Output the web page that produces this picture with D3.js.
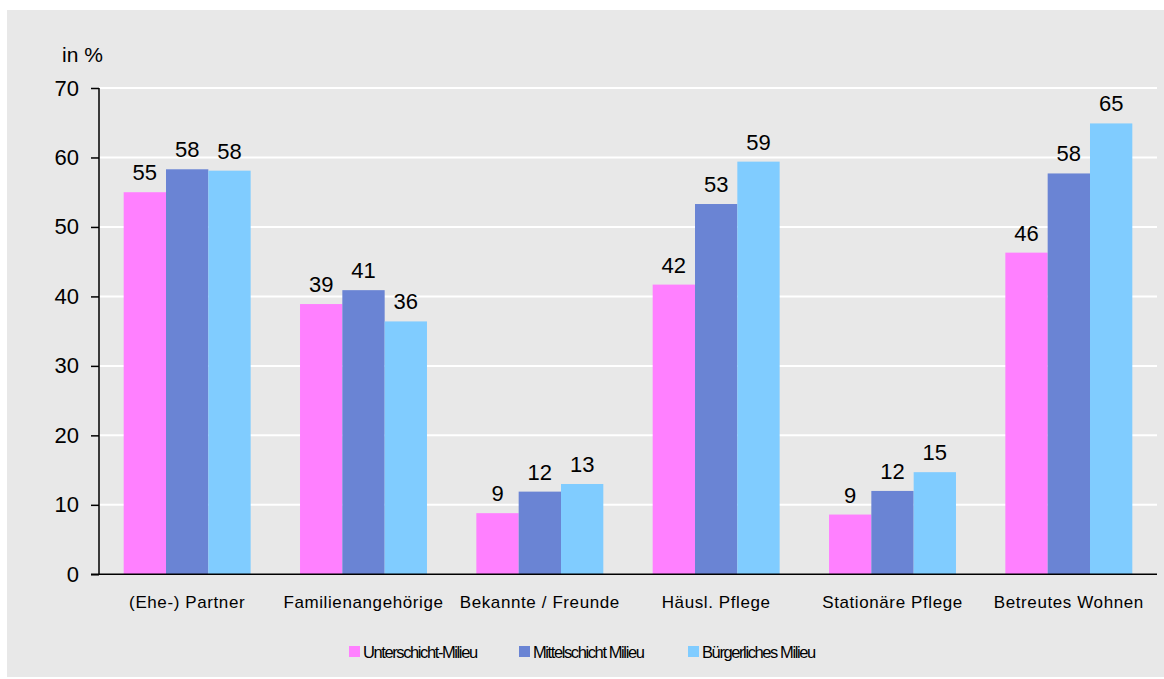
<!DOCTYPE html>
<html>
<head>
<meta charset="utf-8">
<script src="https://cdn.jsdelivr.net/npm/d3@7"></script>
<style>
  html, body { margin: 0; padding: 0; background: #ffffff; }
  svg { display: block; font-family: "Liberation Sans", Arial, sans-serif; }
</style>
</head>
<body>
<svg id="chart" width="1164" height="679"></svg>
<script>
const categories = ["(Ehe-) Partner", "Familienangehörige", "Bekannte / Freunde", "Häusl. Pflege", "Stationäre Pflege", "Betreutes Wohnen"];
const seriesNames = ["Unterschicht-Milieu", "Mittelschicht Milieu", "Bürgerliches Milieu"];
const unterschicht = [55, 38.9, 8.8, 41.7, 8.6, 46.3];
const mittelschicht = [58.3, 40.9, 11.9, 53.3, 12.0, 57.7];
const buergerlich = [58.1, 36.4, 13.0, 59.4, 14.7, 64.9];
const yTicks = [0, 10, 20, 30, 40, 50, 60, 70];
const colors = ["#ff80ff", "#6a84d4", "#80ccff"];

const seriesValues = [unterschicht, mittelschicht, buergerlich];

const svg = d3.select("#chart");
// gray panel
svg.append("rect").attr("x", 7).attr("y", 10).attr("width", 1157).attr("height", 667).attr("fill", "#e8e8e8");

const mLeft = 99, mRight = 1157, mTop = 88, mBottom = 574.3;
const y = d3.scaleLinear().domain([0, 70]).range([mBottom, mTop]);
const x0 = d3.scaleBand().domain(categories).range([mLeft, mRight]).paddingInner(0.28).paddingOuter(0.14);
const x1 = d3.scaleBand().domain(seriesNames).range([0, x0.bandwidth()]).padding(0);

// gridlines
svg.append("g").selectAll("line").data(yTicks.filter(d => d > 0)).join("line")
  .attr("x1", mLeft).attr("x2", mRight)
  .attr("y1", d => y(d)).attr("y2", d => y(d))
  .attr("stroke", "#ffffff").attr("stroke-width", 2);

// bars
const groups = svg.append("g").selectAll("g").data(categories).join("g")
  .attr("transform", d => `translate(${x0(d)},0)`);

groups.each(function(cat, ci) {
  const g = d3.select(this);
  const data = seriesNames.map((s, si) => ({ s, si, v: seriesValues[si][ci] }));
  g.selectAll("rect").data(data).join("rect")
    .attr("x", d => x1(d.s)).attr("width", x1.bandwidth())
    .attr("y", d => y(d.v)).attr("height", d => y(0) - y(d.v))
    .attr("fill", d => colors[d.si]);
  g.selectAll("text").data(data).join("text")
    .attr("x", d => x1(d.s) + x1.bandwidth() / 2)
    .attr("y", d => y(d.v) - 12)
    .attr("text-anchor", "middle")
    .attr("font-size", 22).attr("fill", "#000")
    .text(d => d3.format(".0f")(d.v));
});

// y axis
const yAxis = d3.axisLeft(y).tickValues(yTicks).tickSize(8).tickPadding(12).tickFormat(d3.format("d"));
const ga = svg.append("g").attr("transform", `translate(${mLeft},0)`).call(yAxis);
ga.select(".domain").attr("stroke", "#000").attr("stroke-width", 1.5).attr("d", `M-0,${mTop}V${mBottom}`);
ga.selectAll(".tick line").attr("stroke", "#000").attr("stroke-width", 1.5);
ga.selectAll(".tick text").attr("font-size", 22).attr("fill", "#000").attr("font-family", "Liberation Sans, Arial, sans-serif");

// x axis
const xAxis = d3.axisBottom(x0).tickSize(0).tickPadding(22);
const gx = svg.append("g").attr("transform", `translate(0,${mBottom})`).call(xAxis);
gx.select(".domain").attr("stroke", "#000").attr("stroke-width", 1.5).attr("d", `M${mLeft - 8},0H${mRight}`);
gx.selectAll(".tick text").attr("font-size", 17).attr("letter-spacing", "0.6px").attr("fill", "#000")
  .attr("font-family", "Liberation Sans, Arial, sans-serif");

// unit label
svg.append("text").attr("x", 62).attr("y", 62).attr("font-size", 21).attr("fill", "#000").text("in %");

// legend
const legendX = [349, 519, 688];
const lg = svg.append("g").selectAll("g").data(seriesNames).join("g")
  .attr("transform", (d, i) => `translate(${legendX[i]},646)`);
lg.append("rect").attr("width", 11).attr("height", 11).attr("fill", (d, i) => colors[i]);
lg.append("text").attr("x", 14).attr("y", 11.5).attr("font-size", 16.5).attr("letter-spacing", "-1.4px")
  .attr("fill", "#000").text(d => d);
</script>
</body>
</html>
